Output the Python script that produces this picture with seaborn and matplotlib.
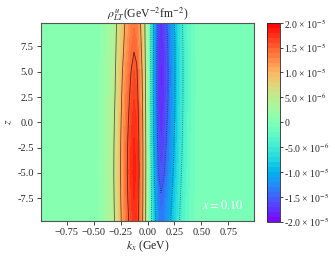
import numpy as np
import matplotlib
matplotlib.use("Agg")
import matplotlib.pyplot as plt
import seaborn as sns

# --- dados (unidades de 1e-5 GeV^-2 fm^-2) ---
kx_pts = [-0.99, -0.6, -0.45, -0.4, -0.35, -0.3, -0.25, -0.2, -0.15, -0.125,
          -0.1, -0.05, 0.0, 0.05, 0.1, 0.125, 0.15, 0.2, 0.25, 0.3, 0.35,
          0.4, 0.45, 0.6, 0.99]
perfil_kx = [0.0, 0.02, 0.1, 0.2, 0.35, 0.55, 1.0, 1.42, 1.74, 1.84,
             1.77, 1.15, 0.2, -0.95, -1.72, -1.84, -1.76, -1.45, -1.05, -0.65,
             -0.4, -0.22, -0.1, -0.02, 0.0]
z_pts = [-9.75, -7.5, -5.0, -2.5, 0.0, 2.5, 5.0, 7.5, 9.85]
env_pos = [0.95, 0.98, 1.0, 0.99, 0.96, 0.92, 0.87, 0.80, 0.75]
env_neg = [0.75, 0.80, 0.87, 0.92, 0.96, 0.99, 1.0, 0.98, 0.95]

cbar_ticks = [-2e-5, -1.5e-5, -1e-5, -5e-6, 0, 5e-6, 1e-5, 1.5e-5, 2e-5]
cbar_labels = ['-2.0 × 10$^{-5}$', '-1.5 × 10$^{-5}$', '-1.0 × 10$^{-5}$',
               '-5.0 × 10$^{-6}$', '0', '5.0 × 10$^{-6}$', '1.0 × 10$^{-5}$',
               '1.5 × 10$^{-5}$', '2.0 × 10$^{-5}$']
niveis_linhas = [-1.5e-5, -1e-5, -5e-6, 5e-6, 1e-5, 1.5e-5]

sns.set_style("ticks")
plt.rcParams['font.family'] = ['Liberation Serif', 'DejaVu Serif']
plt.rcParams['mathtext.fontset'] = 'stix'
plt.rcParams['font.size'] = 7.5
plt.rcParams['axes.unicode_minus'] = True

KX, Z = np.meshgrid(np.array(kx_pts), np.array(z_pts))
P = np.array(perfil_kx)[None, :]
campo = np.where(P > 0, P * np.array(env_pos)[:, None], P * np.array(env_neg)[:, None]) * 1e-5

cmap = sns.color_palette("rainbow", as_cmap=True)

fig = plt.figure(figsize=(3.35, 2.58), dpi=100)
ax = fig.add_axes([0.1215, 0.1434, 0.6376, 0.7686])
cax = fig.add_axes([0.798, 0.1407, 0.038, 0.7713])

cf = ax.contourf(KX, Z, campo, levels=np.linspace(-2e-5, 2e-5, 41), cmap=cmap,
                 vmin=-2e-5, vmax=2e-5)
ax.contour(KX, Z, campo, levels=niveis_linhas, colors='k', linewidths=0.6,
           alpha=0.6, negative_linestyles='dotted')

ax.set_xlim(-0.99, 0.99)
ax.set_ylim(-9.75, 9.85)
ax.set_xticks([-0.75, -0.5, -0.25, 0, 0.25, 0.5, 0.75])
ax.set_yticks([-7.5, -5, -2.5, 0, 2.5, 5, 7.5])
ax.set_yticklabels(['-7.5', '-5.0', '-2.5', '0.0', '2.5', '5.0', '7.5'])
ax.tick_params(length=3, width=0.6, pad=2, labelsize=7.5)
for s in ax.spines.values():
    s.set_linewidth(0.8)
    s.set_color('#555555')

ax.set_title(r'$\rho^{u}_{LT}$(GeV$^{-2}$fm$^{-2}$)', fontsize=8.5, pad=3)
ax.set_xlabel(r'$k_x$ (GeV)', fontsize=8.5, labelpad=1)
ax.set_ylabel(r'$z$', fontsize=8.5, labelpad=2)
ax.text(0.95, 0.08, r'$x=0.10$', transform=ax.transAxes, color='white',
        fontsize=9, ha='right', va='center')

cb = fig.colorbar(cf, cax=cax, ticks=cbar_ticks)
cb.ax.set_yticklabels(cbar_labels)
cb.ax.tick_params(length=2, width=0.6, pad=1, labelsize=7)
cb.outline.set_linewidth(0.6)

fig.savefig("out.png", dpi=100)
